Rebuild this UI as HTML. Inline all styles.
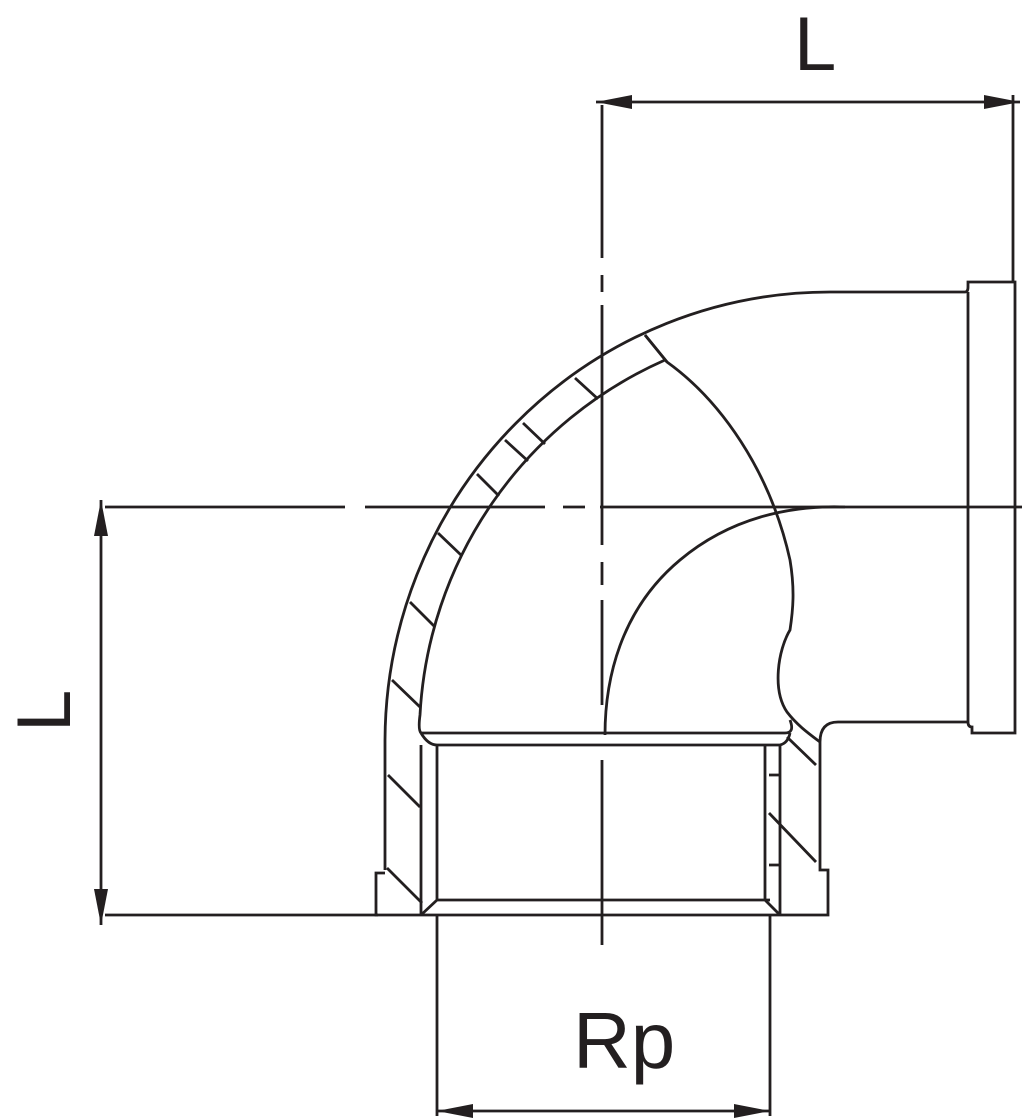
<!DOCTYPE html>
<html><head><meta charset="utf-8"><style>html,body{margin:0;padding:0;background:#fff}svg{display:block}</style></head>
<body>
<svg width="1024" height="1119" viewBox="0 0 1024 1119" xmlns="http://www.w3.org/2000/svg">
<defs>
<marker id="b" viewBox="0 0 36 14" refX="36" refY="7" markerWidth="36" markerHeight="14" markerUnits="userSpaceOnUse" orient="auto-start-reverse"><path d="M0,0 L36,7 L0,14 Z" fill="#231f20"/></marker>
</defs>
<g fill="none" stroke="#231f20" stroke-width="2.8">
<line x1="596" y1="102" x2="1020" y2="102" marker-start="url(#b)" marker-end="url(#b)"/>
<line x1="1013" y1="95" x2="1013" y2="282"/>
<line x1="101" y1="500" x2="101" y2="925" marker-start="url(#b)" marker-end="url(#b)"/>
<line x1="105" y1="915" x2="378" y2="915"/>
<line x1="437" y1="1111" x2="770" y2="1111" marker-start="url(#b)" marker-end="url(#b)"/>
<line x1="437" y1="915" x2="437" y2="1116"/>
<line x1="770" y1="915" x2="770" y2="1116"/>
<path d="M105,507 H345 M365,507 H545 M563,507 H585 M600,507 H1022"/>
<path d="M602,105 V258 M602,275 V292 M602,305 V545 M602,562 V585 M602,600 V705 M602,760 V945"/>
<path d="M385,870 V740 A445,450 0 0 1 830,292 H965"/>
<path d="M965,292 Q968,292 968,287 V282 H1015 V733 H972 V727 Q968,727 968,722 V292"/>
<line x1="968" y1="722" x2="838" y2="722"/>
<path d="M838,722 Q820,722 820,742 V870 H828 V915 H376 V873 H385"/>
<path d="M421,733 Q418,730 420,715 A412,412 0 0 1 665,360"/>
<path d="M645,335 L667,362 C720,400 770,470 790,560 C795,590 793,610 790,630 C778,650 772,690 787,712 C797,725 808,733 820,742"/>
<path d="M605,735 C605,680 620,610 680,560 C730,518 790,505 845,507"/>
<path d="M421,733 Q425,733 432,733 H785 Q795,733 790,720"/>
<path d="M421,733 Q428,745 437,745 H780 Q788,743 790,733"/>
<path d="M421,745 V915 M437,745 V900 M437,900 H770 M765,745 V900 M780,745 V915 M421,915 L437,900 M780,915 L765,900"/>
<path d="M769,775 H780 M769,865 H780"/>
<path d="M645,335 L667,362 M575,378 L598,399 M523,423 L545,444 M505,440 L528,461 M477,474 L499,496 M438,533 L461,555 M410,602 L434,626 M392,680 L420,707 M388,775 L420,807 M387,868 L422,903 M787,737 L816,765 M769,813 L816,862"/>
</g>
<g fill="#231f20" font-family="'Liberation Sans', sans-serif">
<text x="794" y="70" font-size="76">L</text>
<text x="573" y="1068" font-size="80">Rp</text>
<text transform="translate(70,732) rotate(-90)" font-size="76">L</text>
</g>
</svg>
</body></html>
